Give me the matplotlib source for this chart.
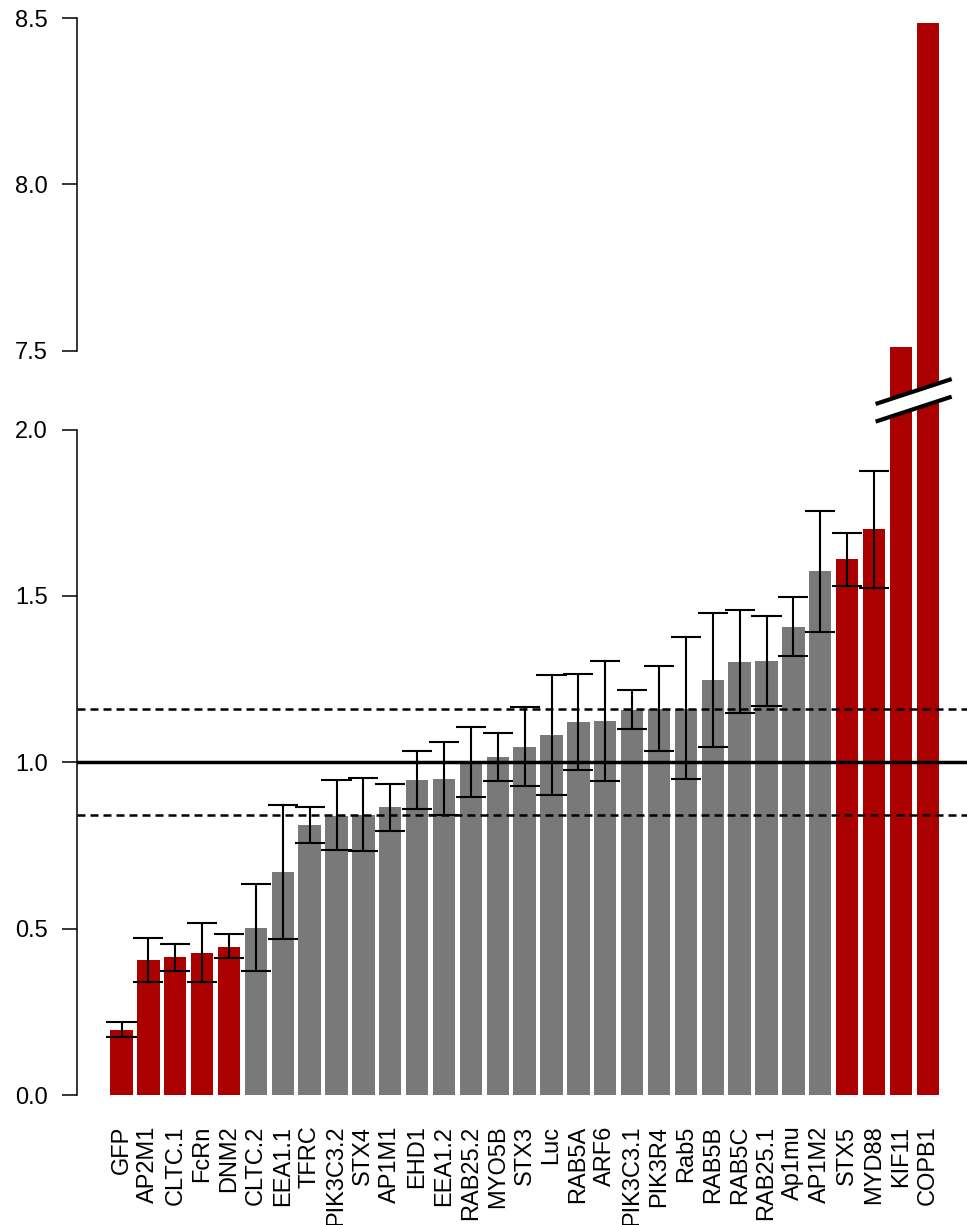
import numpy as np
import matplotlib.pyplot as plt
from matplotlib.patches import Polygon

plt.rcParams['font.family'] = ['Liberation Sans', 'DejaVu Sans']

genes = ['GFP', 'AP2M1', 'CLTC.1', 'FcRn', 'DNM2', 'CLTC.2', 'EEA1.1', 'TFRC',
         'PIK3C3.2', 'STX4', 'AP1M1', 'EHD1', 'EEA1.2', 'RAB25.2', 'MYO5B', 'STX3',
         'Luc', 'RAB5A', 'ARF6', 'PIK3C3.1', 'PIK3R4', 'Rab5', 'RAB5B', 'RAB5C',
         'RAB25.1', 'Ap1mu', 'AP1M2', 'STX5', 'MYD88', 'KIF11', 'COPB1']
values = [0.195, 0.407, 0.414, 0.428, 0.446, 0.502, 0.670, 0.811,
          0.840, 0.841, 0.866, 0.946, 0.951, 0.998, 1.015, 1.047,
          1.081, 1.120, 1.123, 1.158, 1.160, 1.160, 1.247, 1.302,
          1.304, 1.408, 1.575, 1.610, 1.700, 7.51, 8.485]
err_hi = [0.218, 0.473, 0.455, 0.516, 0.483, 0.633, 0.873, 0.867,
          0.946, 0.954, 0.936, 1.033, 1.060, 1.105, 1.088, 1.165,
          1.263, 1.265, 1.304, 1.216, 1.289, 1.376, 1.449, 1.458,
          1.441, 1.498, 1.756, 1.688, 1.876, np.nan, np.nan]
err_lo = [0.174, 0.341, 0.374, 0.341, 0.412, 0.373, 0.468, 0.758,
          0.736, 0.734, 0.794, 0.861, 0.842, 0.897, 0.944, 0.930,
          0.902, 0.977, 0.944, 1.101, 1.034, 0.949, 1.047, 1.149,
          1.169, 1.318, 1.393, 1.530, 1.524, np.nan, np.nan]
hit = [1, 1, 1, 1, 1] + [0] * 22 + [1, 1, 1, 1]
ref_line = 1.0
cutoffs = [0.841, 1.159]

# broken axis: 0-2 below, 7.5-8.5 above
low_top, high_bot = 2.0, 7.5
gap = 0.237

def tr(v):
    v = np.asarray(v, dtype=float)
    return np.where(v > low_top, v - high_bot + low_top + gap, v)

red = '#aa0000'
grey = '#797979'

fig = plt.figure(figsize=(9.67, 12.25), dpi=100)
ax = fig.add_axes([77 / 967, 130 / 1225, 890 / 967, 1077 / 1225])

x = np.arange(len(genes))
cols = [red if h else grey for h in hit]
ax.bar(x, tr(values), width=0.833, color=cols, zorder=1)

ax.axhline(ref_line, color='black', lw=2.5, zorder=2)
for c in cutoffs:
    ax.axhline(c, color='black', lw=1.8, linestyle=(0, (3.2, 2.0)), zorder=2)

lo = np.array(err_lo)
hi = np.array(err_hi)
ok = ~np.isnan(lo)
ax.vlines(x[ok], lo[ok], hi[ok], color='black', lw=1.5, zorder=3)
ax.hlines(lo[ok], x[ok] - 0.56, x[ok] + 0.56, color='black', lw=1.5, zorder=3)
ax.hlines(hi[ok], x[ok] - 0.56, x[ok] + 0.56, color='black', lw=1.5, zorder=3)

# break marks across the two tall bars
bx0, bx1 = len(genes) - 2 - 0.94, len(genes) - 1 + 0.89
by0, by1, bh = 2.077, 2.152, 0.053
ax.add_patch(Polygon([[bx0, by0], [bx1, by1], [bx1, by1 - bh], [bx0, by0 - bh]],
                     closed=True, facecolor='white', edgecolor='none', zorder=4))
ax.plot([bx0, bx1], [by0, by1], color='black', lw=3, zorder=5, solid_capstyle='butt')
ax.plot([bx0, bx1], [by0 - bh, by1 - bh], color='black', lw=3, zorder=5, solid_capstyle='butt')

ax.set_xlim(-1.656, 31.46)
ax.set_ylim(0, tr(8.5) + 0.0001)

for s in ax.spines.values():
    s.set_visible(False)
trans = ax.get_yaxis_transform()
ax.plot([0, 0], [0, low_top], color='black', lw=1.1, transform=trans, clip_on=False)
ax.plot([0, 0], tr([high_bot, 8.5]), color='black', lw=1.1, transform=trans, clip_on=False)

yt = [0.0, 0.5, 1.0, 1.5, 2.0, 7.5, 8.0, 8.5]
ax.set_yticks(tr(yt))
ax.set_yticklabels(['%.1f' % v for v in yt], fontsize=17)
ax.tick_params(axis='y', length=10.8, width=1.1, pad=10)

ax.set_xticks(x)
ax.set_xticklabels(genes, rotation=90, fontsize=17)
ax.tick_params(axis='x', length=0, pad=22)

fig.savefig('out.png', dpi=100)
